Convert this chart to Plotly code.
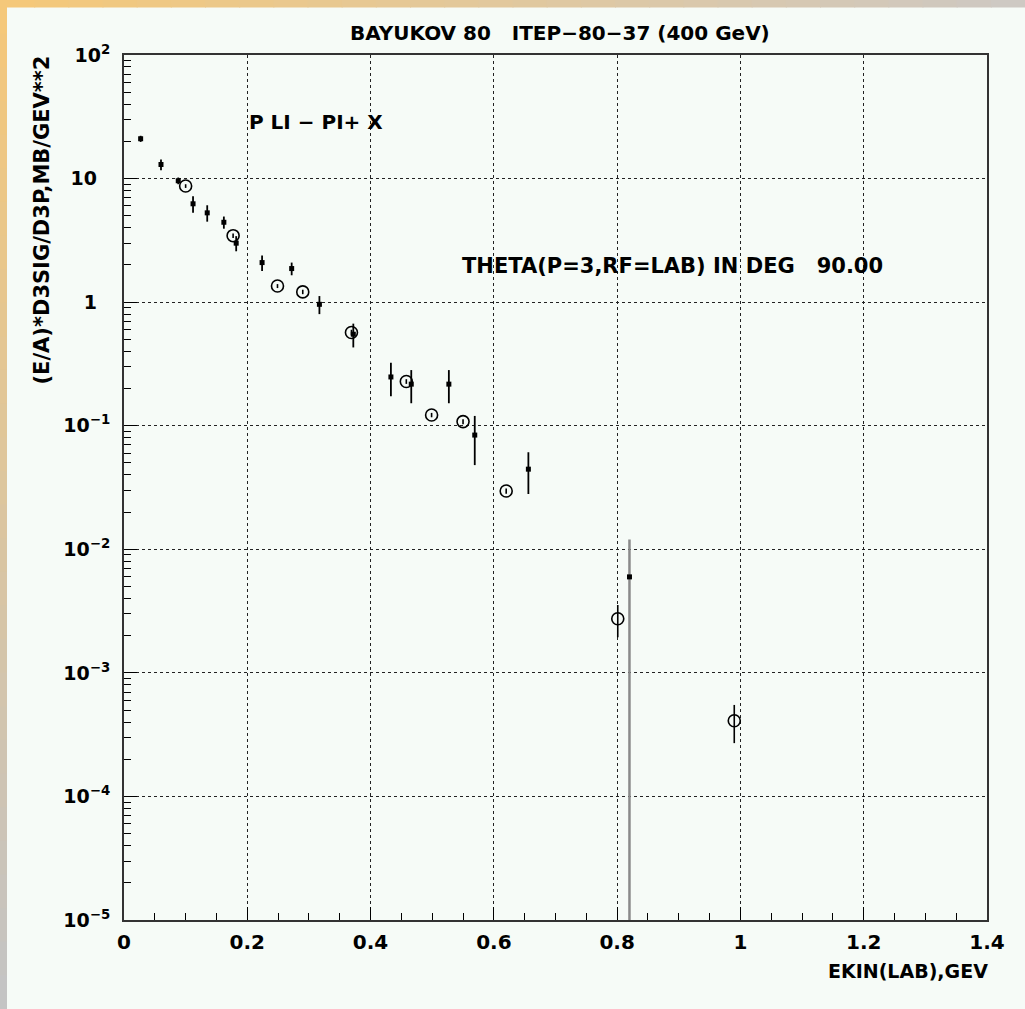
import plotly.graph_objects as go
import numpy as np

# ---------------- data ----------------
solid_x = [0.027, 0.060, 0.088, 0.112, 0.135, 0.162, 0.182, 0.224, 0.272, 0.317,
           0.372, 0.433, 0.466, 0.527, 0.569, 0.656, 0.820]
solid_y = [21.0, 13.0, 9.6, 6.25, 5.28, 4.43, 3.0, 2.09, 1.87, 0.96,
           0.55, 0.248, 0.217, 0.217, 0.084, 0.0445, 0.00598]
solid_err = [1.2, 1.3, 0.6, 0.95, 0.8, 0.5, 0.42, 0.3, 0.22, 0.16,
             0.12, 0.075, 0.065, 0.065, 0.036, 0.0165, 0.0060]

open_x = [0.100, 0.177, 0.249, 0.290, 0.369, 0.458, 0.499, 0.550, 0.620, 0.801, 0.990]
open_y = [8.7, 3.45, 1.35, 1.21, 0.568, 0.228, 0.122, 0.108, 0.0296, 0.00274, 0.00041]
open_err = [0.3, 0.15, 0.05, 0.05, 0.03, 0.01, 0.005, 0.005, 0.0015, 0.0008, 0.00014]

x_tickvals = [0, 0.2, 0.4, 0.6, 0.8, 1.0, 1.2, 1.4]
x_ticktext = ["0", "0.2", "0.4", "0.6", "0.8", "1", "1.2", "1.4"]
y_tickvals = [1e-5, 1e-4, 1e-3, 1e-2, 1e-1, 1, 10, 100]
y_ticktext = ["10<sup>\u22125</sup>", "10<sup>\u22124</sup>", "10<sup>\u22123</sup>",
              "10<sup>\u22122</sup>", "10<sup>\u22121</sup>", "1\u2007", "10\u2007",
              "10<sup>2</sup>"]

title_text = "BAYUKOV 80\u00a0\u00a0\u00a0ITEP\u221280\u221237 (400 GeV)"
reaction_text = "P LI \u2212 PI+ X"
theta_text = "THETA(P=3,RF=LAB) IN DEG\u00a0\u00a0\u00a090.00"
ytitle_text = "(E/A)*D3SIG/D3P,MB/GEV**2"
xtitle_text = "EKIN(LAB),GEV"

# ---------------- figure ----------------
W, H = 1025, 1009
L, R, T, B = 124, 38, 55, 89
FONT = "DejaVu Sans, Liberation Sans, Arial"
PAGE = "#f6fbf7"

sx = np.array(solid_x); sy = np.array(solid_y); se = np.array(solid_err)
big = se >= sy * 0.9          # error bar reaching below the axis
small = ~big

fig = go.Figure()

fig.add_trace(go.Scatter(
    x=sx[small], y=sy[small], mode="markers",
    marker=dict(symbol="square", size=5, color="black"),
    error_y=dict(type="data", array=se[small], color="black", thickness=1.8, width=0),
    showlegend=False))

fig.add_trace(go.Scatter(
    x=sx[big], y=sy[big], mode="markers",
    marker=dict(symbol="square", size=5, color="black"),
    error_y=dict(type="data", array=se[big], arrayminus=sy[big] - 1e-7,
                 color="#8a8a8a", thickness=2.5, width=0),
    showlegend=False))

fig.add_trace(go.Scatter(
    x=open_x, y=open_y, mode="markers",
    marker=dict(symbol="circle-open", size=12, color="black", line=dict(width=1.6)),
    error_y=dict(type="data", array=open_err, color="black", thickness=1.6, width=0),
    showlegend=False))

# ---------------- border decoration ----------------
def px2paper_x(px):
    return (px - L) / (W - L - R)

def px2paper_y(py):
    return 1 - (py - T) / (H - T - B)

shapes = []
n = 30
c0 = np.array([245, 200, 122])
c_top_end = np.array([206, 201, 195])
c_left_end = np.array([196, 196, 196])
for i in range(n):
    f = i / (n - 1)
    c = (c0 * (1 - f) + c_top_end * f).astype(int)
    shapes.append(dict(type="rect", xref="paper", yref="paper", layer="above",
                       x0=px2paper_x(W * i / n), x1=px2paper_x(W * (i + 1) / n + 1),
                       y0=px2paper_y(7.5), y1=px2paper_y(-3),
                       line=dict(width=0), fillcolor=f"rgb({c[0]},{c[1]},{c[2]})"))
    c = (c0 * (1 - f) + c_left_end * f).astype(int)
    shapes.append(dict(type="rect", xref="paper", yref="paper", layer="above",
                       x0=px2paper_x(-3), x1=px2paper_x(7),
                       y0=px2paper_y(H * (i + 1) / n + 1), y1=px2paper_y(H * i / n),
                       line=dict(width=0), fillcolor=f"rgb({c[0]},{c[1]},{c[2]})"))

BOLD = dict(family=FONT, color="black", weight="bold")
annotations = [
    dict(text=title_text, xref="paper", yref="paper", x=px2paper_x(560), y=px2paper_y(33),
         xanchor="center", yanchor="middle", showarrow=False,
         font=dict(BOLD, size=20)),
    dict(text=reaction_text, xref="paper", yref="paper", x=px2paper_x(247), y=px2paper_y(122),
         xanchor="left", yanchor="middle", showarrow=False,
         font=dict(BOLD, size=20)),
    dict(text=theta_text, xref="paper", yref="paper", x=px2paper_x(460), y=px2paper_y(266),
         xanchor="left", yanchor="middle", showarrow=False,
         font=dict(BOLD, size=21)),
    dict(text=ytitle_text, xref="paper", yref="paper", x=px2paper_x(42), y=px2paper_y(54),
         xanchor="center", yanchor="top", textangle=-90, showarrow=False,
         font=dict(BOLD, size=21)),
    dict(text=xtitle_text, xref="paper", yref="paper", x=px2paper_x(990), y=px2paper_y(971),
         xanchor="right", yanchor="middle", showarrow=False,
         font=dict(BOLD, size=19)),
]

fig.update_layout(
    width=W, height=H,
    margin=dict(l=L, r=R, t=T, b=B, pad=0),
    paper_bgcolor=PAGE, plot_bgcolor=PAGE,
    shapes=shapes, annotations=annotations,
    font=dict(family=FONT, size=20, color="black"),
    xaxis=dict(range=[0, 1.4], tickvals=x_tickvals, ticktext=x_ticktext,
               ticks="inside", ticklen=13, tickwidth=1.3, tickcolor="black",
               minor=dict(dtick=0.05, tick0=0, ticks="inside", ticklen=7,
                          tickcolor="black", showgrid=False),
               showline=True, linecolor="#333", linewidth=2, mirror=True,
               showgrid=True, gridcolor="#222", griddash="dot", gridwidth=1,
               zeroline=False, ticklabelstandoff=3,
               tickfont=dict(BOLD, size=20)),
    yaxis=dict(type="log", range=[-5, 2], tickvals=y_tickvals, ticktext=y_ticktext,
               ticks="inside", ticklen=13, tickwidth=1.3, tickcolor="black",
               minor=dict(dtick="D1", ticks="inside", ticklen=7,
                          tickcolor="black", showgrid=False),
               showline=True, linecolor="#333", linewidth=2, mirror=True,
               showgrid=True, gridcolor="#222", griddash="dot", gridwidth=1,
               zeroline=False, ticklabelstandoff=8,
               tickfont=dict(BOLD, size=19)),
)

fig.write_html("out.html", config={"displayModeBar": False},
               post_script="document.body.style.margin='0px';document.body.style.overflow='hidden';")
